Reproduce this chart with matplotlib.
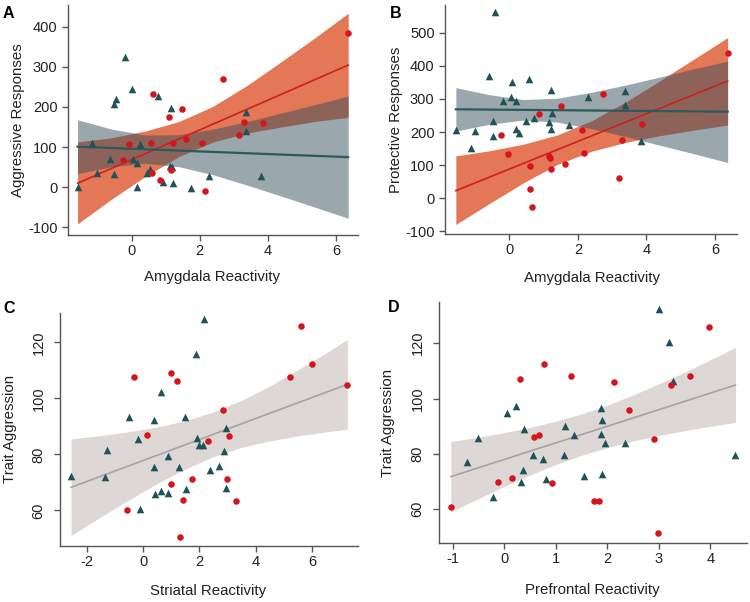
import matplotlib
matplotlib.use("Agg")
from matplotlib import pyplot as plt

plt.rcParams['font.family'] = ['Liberation Sans', 'DejaVu Sans']
plt.rcParams['axes.unicode_minus'] = False

# ---- panel A: aggressive responses vs amygdala reactivity ----
a_red_x = [6.36, 2.69, 0.64, 1.47, 1.11, 3.29, 3.85, 3.15, -0.08, 0.56, 1.20, 1.59, 2.08, -0.27, 0.59, 1.16, 0.83, 2.16]
a_red_y = [385, 270, 232, 194, 176, 163, 161, 130, 108, 111, 111, 119, 109, 68, 35, 43, 18, -8]
a_teal_x = [-0.20, 0.02, -0.46, -0.51, 0.77, 1.16, 3.35, 3.36, -1.16, 0.23, -0.64, 0.03, 0.17,
            -1.03, -0.52, 0.55, 0.44, 1.13, 1.17, 0.93, 1.20, 2.26, 1.73, 0.15, -1.59, 3.80]
a_teal_y = [325, 244, 220, 207, 226, 197, 187, 140, 109, 108, 70, 70, 60,
            36, 33, 45, 35, 53, 50, 14, 10, 29, -3, 0, 0, 27]
a_line_x = [-1.59, 6.36]
a_red_line = [10, 304]
a_teal_line = [101, 75]
a_band_x = [-1.59, -0.6, 0.4, 1.4, 2.4, 3.4, 4.4, 5.4, 6.36]
a_red_lo = [-91, -30, 27, 77, 113, 135, 150, 164, 174]
a_red_hi = [113, 123, 140, 164, 202, 254, 313, 373, 433]
a_teal_lo = [34, 51, 60, 51, 31, 5, -22, -50, -77]
a_teal_hi = [168, 145, 130, 131, 145, 164, 185, 206, 227]

# ---- panel B: protective responses vs amygdala reactivity ----
b_red_x = [6.37, 2.73, 1.50, 0.86, -0.24, 3.87, 2.13, 3.30, -0.04, 2.19, 1.15, 1.19, 1.63, 0.61, 1.23, 3.19, 0.60, 0.65]
b_red_y = [438, 315, 279, 253, 192, 223, 206, 176, 133, 138, 128, 122, 103, 96, 87, 61, 28, -26]
b_teal_x = [-0.42, -0.59, 0.58, 0.07, -0.17, 0.06, 0.21, 1.23, 2.29, 3.39, 3.39, 1.25, -0.48,
            0.48, 0.71, 1.17, 1.21, 1.75, -1.56, -1.00, 0.19, 0.27, -0.48, -1.13, 3.83]
b_teal_y = [563, 369, 361, 350, 295, 306, 293, 327, 307, 323, 283, 257, 234,
            232, 242, 230, 208, 222, 206, 204, 210, 196, 188, 152, 172]
b_line_x = [-1.56, 6.37]
b_red_line = [23, 354]
b_teal_line = [268.6, 261.4]
b_band_x = [-1.56, -0.6, 0.4, 1.4, 2.4, 3.4, 4.4, 5.4, 6.37]
b_red_lo = [-79, -17, 46, 102, 142, 169, 189, 206, 221]
b_red_hi = [128, 143, 163, 191, 234, 291, 355, 421, 485]
b_teal_lo = [203, 223, 236, 230, 210, 186, 160, 134, 108]
b_teal_hi = [334, 313, 298, 302, 320, 342, 366, 391, 414]

# ---- panel C: trait aggression vs striatal reactivity ----
c_teal_x = [2.17, 1.89, 0.63, -0.50, 0.38, 1.49, -0.20, -1.28, 1.91, 1.99, 2.11, 2.93, 2.88,
            0.88, 1.26, 0.37, 2.68, 2.37, -2.56, -1.36, 2.96, 1.51, 0.64, 0.42, 0.87, -0.11]
c_teal_y = [128.2, 115.8, 102.1, 93.5, 92.3, 93.5, 85.4, 81.5, 85.7, 83.3, 83.3, 89.3, 81.2,
            79.3, 75.5, 75.4, 75.8, 74.4, 72.4, 72.0, 68.1, 67.5, 66.9, 65.8, 66.1, 60.6]
c_red_x = [5.63, 5.99, 5.22, 7.25, 1.00, -0.33, 1.19, 2.82, 0.12, 3.06, 2.30, 0.97, 1.74, 2.98, 1.42, 3.31, -0.59, 1.32]
c_red_y = [125.8, 112.1, 107.5, 104.8, 109.0, 107.5, 106.1, 95.7, 86.9, 86.5, 84.8, 69.5, 71.3, 71.1, 63.6, 63.5, 60.1, 50.5]
c_line_x = [-2.57, 7.26]
c_line_y = [68.2, 105.0]
c_band_x = [-2.57, -1.5, -0.5, 0.5, 1.5, 2.5, 3.5, 4.5, 5.5, 6.5, 7.26]
c_lo = [51.0, 57.7, 63.8, 69.6, 74.8, 79.2, 82.5, 84.8, 86.6, 88.0, 89.0]
c_hi = [85.5, 86.7, 88.1, 89.8, 92.0, 95.2, 99.3, 104.4, 110.2, 116.2, 121.0]

# ---- panel D: trait aggression vs prefrontal reactivity ----
d_teal_x = [3.01, 3.19, 3.28, 4.48, 0.23, 0.06, -0.52, 0.38, 1.18, 1.35, 1.88, 1.90, 1.88,
            1.96, 2.35, 0.55, 1.15, 0.76, -0.73, 0.36, 0.32, 0.81, 1.55, 1.89, -0.22]
d_teal_y = [132.4, 120.4, 106.4, 79.5, 97.3, 94.9, 85.9, 88.9, 90.1, 86.7, 96.6, 92.3, 87.2,
            84.1, 83.9, 79.6, 79.6, 78.3, 77.0, 74.2, 70.0, 70.8, 72.0, 72.7, 64.3]
d_red_x = [3.98, 0.78, 1.30, 0.30, 2.14, 3.60, 3.24, 2.43, 0.57, 0.67, 2.91, -0.12, 0.14, 0.93, 1.75, 1.83, -1.04, 2.98]
d_red_y = [126.0, 112.4, 108.0, 107.1, 106.0, 108.0, 104.8, 95.7, 86.3, 87.0, 85.5, 69.8, 71.4, 69.5, 62.9, 62.9, 60.7, 51.3]
d_line_x = [-1.04, 4.49]
d_line_y = [71.8, 104.9]
d_band_x = [-1.04, -0.5, 0, 0.5, 1, 1.5, 2, 2.5, 3, 3.5, 4, 4.49]
d_lo = [59.1, 63.9, 68.3, 72.4, 76.2, 79.5, 82.3, 84.7, 86.7, 88.4, 90.0, 91.4]
d_hi = [84.5, 86.1, 87.7, 89.6, 91.8, 94.5, 97.6, 101.3, 105.3, 109.5, 114.0, 118.5]

# colours
RED_PT = '#D5141C'
TEAL_PT = '#1E5357'
ORANGE = '#DC4A1E'
TEAL_BAND = '#37515D'
TEAL_LINE = '#2B5A5E'
RED_LINE = '#CC2020'
GRAY_BAND = '#DDD7D5'
GRAY_LINE = '#ABA29F'
SPINE = '#5A5252'

W, H = 750, 602
fig = plt.figure(figsize=(7.5, 6.02), dpi=100)


def box(l, t, r, b):
    return [l / W, 1 - b / H, (r - l) / W, (b - t) / H]


def style(ax, rot_y=False):
    for s in ['top', 'right']:
        ax.spines[s].set_visible(False)
    for s in ['left', 'bottom']:
        ax.spines[s].set_color(SPINE)
        ax.spines[s].set_linewidth(1.0)
    ax.tick_params(length=4.5, width=1.0, color=SPINE, labelsize=10.5, labelcolor='#222222')
    ax.tick_params(axis='x', pad=2)
    if rot_y:
        ax.tick_params(axis='y', labelrotation=90, pad=6)
        for lb in ax.get_yticklabels():
            lb.set_va('center')
    else:
        ax.tick_params(axis='y', pad=3)


def scatter(ax, rx, ry, tx, ty):
    ax.scatter(tx, ty, marker='^', s=30, color=TEAL_PT, linewidths=0, zorder=5)
    ax.scatter(rx, ry, marker='o', s=22, color=RED_PT, linewidths=0, zorder=6)


# panel A
axA = fig.add_axes(box(68, 5, 358, 235))
axA.fill_between(a_band_x, a_red_lo, a_red_hi, color=ORANGE, alpha=0.75, linewidth=0, zorder=1)
axA.fill_between(a_band_x, a_teal_lo, a_teal_hi, color=TEAL_BAND, alpha=0.5, linewidth=0, zorder=2)
axA.plot(a_line_x, a_red_line, color=RED_LINE, lw=1.2, zorder=3)
axA.plot(a_line_x, a_teal_line, color=TEAL_LINE, lw=1.6, zorder=3)
scatter(axA, a_red_x, a_red_y, a_teal_x, a_teal_y)
axA.set_xlim(-1.871, 6.648)
axA.set_ylim(-118.7, 453.5)
axA.set_xticks([0, 2, 4, 6])
axA.set_yticks([-100, 0, 100, 200, 300, 400])
style(axA)

# panel B
axB = fig.add_axes(box(445, 5, 736.7, 234.3))
axB.fill_between(b_band_x, b_red_lo, b_red_hi, color=ORANGE, alpha=0.75, linewidth=0, zorder=1)
axB.fill_between(b_band_x, b_teal_lo, b_teal_hi, color=TEAL_BAND, alpha=0.5, linewidth=0, zorder=2)
axB.plot(b_line_x, b_red_line, color=RED_LINE, lw=1.2, zorder=3)
axB.plot(b_line_x, b_teal_line, color=TEAL_LINE, lw=1.6, zorder=3)
scatter(axB, b_red_x, b_red_y, b_teal_x, b_teal_y)
axB.set_xlim(-1.876, 6.635)
axB.set_ylim(-108.7, 583.4)
axB.set_xticks([0, 2, 4, 6])
axB.set_yticks([-100, 0, 100, 200, 300, 400, 500])
style(axB)

# panel C
axC = fig.add_axes(box(60, 313, 358, 546))
axC.fill_between(c_band_x, c_lo, c_hi, color=GRAY_BAND, linewidth=0, zorder=1)
axC.plot(c_line_x, c_line_y, color=GRAY_LINE, lw=1.2, zorder=3)
scatter(axC, c_red_x, c_red_y, c_teal_x, c_teal_y)
axC.set_xlim(-2.964, 7.641)
axC.set_ylim(47.25, 130.5)
axC.set_xticks([-2, 0, 2, 4, 6])
axC.set_yticks([60, 80, 100, 120])
style(axC, rot_y=True)

# panel D
axD = fig.add_axes(box(439.3, 302, 746.7, 543.3))
axD.fill_between(d_band_x, d_lo, d_hi, color=GRAY_BAND, linewidth=0, zorder=1)
axD.plot(d_line_x, d_line_y, color=GRAY_LINE, lw=1.2, zorder=3)
scatter(axD, d_red_x, d_red_y, d_teal_x, d_teal_y)
axD.set_xlim(-1.264, 4.709)
axD.set_ylim(47.72, 134.9)
axD.set_xticks([-1, 0, 1, 2, 3, 4])
axD.set_yticks([60, 80, 100, 120])
style(axD, rot_y=True)

# axis labels and panel letters
def ftext(x, y, s, **kw):
    fig.text(x / W, 1 - y / H, s, **kw)

lab = dict(fontsize=10.8, color='#222222', ha='center', va='center')
ftext(212.5, 277, 'Amygdala Reactivity', **lab)
ftext(591.7, 278, 'Amygdala Reactivity', **lab)
ftext(208, 591.5, 'Striatal Reactivity', **lab)
ftext(592, 590, 'Prefrontal Reactivity', **lab)
ftext(18, 120, 'Aggressive Responses', rotation=90, **lab)
ftext(395.7, 119.5, 'Protective Responses', rotation=90, **lab)
ftext(10, 429, 'Trait Aggression', rotation=90, **lab)
ftext(387.7, 422.5, 'Trait Aggression', rotation=90, **lab)

let = dict(fontsize=11.5, fontweight='bold', color='black', ha='left', va='baseline')
ftext(3, 18, 'A', **let)
ftext(390, 17.5, 'B', **let)
ftext(3, 312.7, 'C', **let)
ftext(388, 312, 'D', **let)

fig.savefig('out.png', dpi=100)
